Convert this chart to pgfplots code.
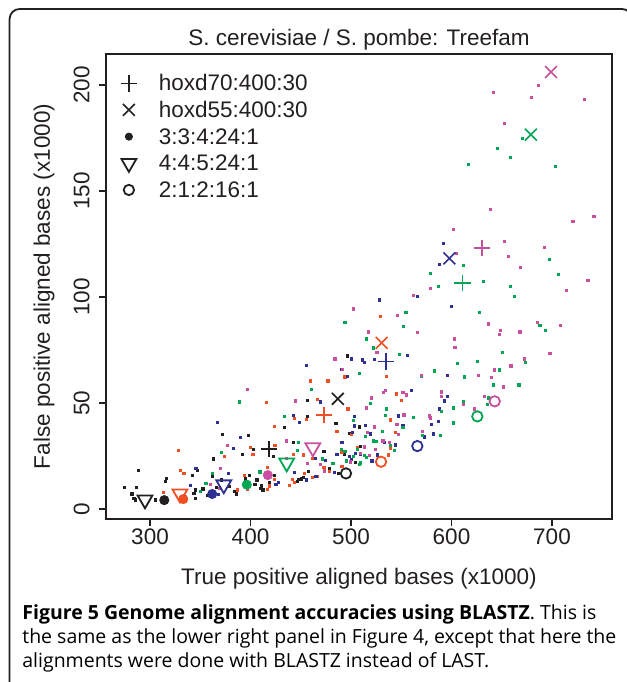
\documentclass[border=0pt]{standalone}
\usepackage{fontspec}
\setmainfont{Liberation Sans}
\newfontfamily\capfont{Open Sans}
\usepackage{pgfplots}
\pgfplotsset{compat=1.18}
\definecolor{cblack}{HTML}{231F20}
\definecolor{corange}{HTML}{F04E23}
\definecolor{cblue}{HTML}{2E3192}
\definecolor{cgreen}{HTML}{00A651}
\definecolor{cmag}{HTML}{C9509F}
\newlength\capw
\newcommand\chartfont{\fontsize{11.25}{13.5}\selectfont}

\pgfplotstableread{
x y
456.7 51.1
456.7 43.6
485 40.4
433.7 38.4
397.7 34.6
371.7 35.1
402.7 28.3
392 25.6
363 23.6
443 31.3
422.7 24.7
347.3 18.4
288.3 18.4
274.7 10.1
286.3 10.1
282 7.1
284 4.9
285.7 4.3
316.7 14.3
315.7 12.9
342 15.7
305.7 4.3
362 15.6
370.7 13.7
366 10.2
345.3 9
343.7 7.4
352.7 9.5
357.3 6.3
345 5
362.7 6.5
379.3 10.6
384.3 8.2
386 7.1
398.7 15.9
395.3 14.2
404.3 11.5
406.3 13.7
412.3 9
410 9.6
411 10.9
418.7 12.4
424 15.9
446.7 12.9
448 14
450.3 14.2
452.7 15
457.3 17.6
478.3 19
473 27.2
487.3 16.8
504.3 21.9
498.7 35.7
509 29.4
493.3 25.8
508 38.7
496.7 72.2
}\dotsblack

\pgfplotstableread{
x y
459.7 60.4
477 60.4
415.7 50.2
466.7 51.7
443.3 42.8
455.7 42.3
424 38.9
328 27.8
399.7 29.1
402.3 25.8
373.7 24.7
330.3 18.4
333.7 16.7
313.7 7.7
387.3 9
395.3 12.6
394 15.7
397 9.3
416.7 19.8
415 16.8
419 10.9
417 9.3
424 14
442 13.9
439 11.2
443.3 12.4
454 16.8
461.7 15
466.7 15.3
452.7 25.5
461.3 23.9
473 19.7
478.7 17.8
500 35.2
506 28.8
486 36.7
491 26.9
443 25.8
424.3 30
529 90.7
535 62.7
545 54.3
550 51.4
539 42
544 36
539 28.6
537.3 25.5
494 62.3
497 47.2
491 20
}\dotsorange

\pgfplotstableread{
x y
456 67.6
496.7 62.4
469.7 50.5
442.3 44.3
367 40.7
448.7 41
389.7 33.7
382.7 28.5
435.7 32.4
345.7 19.2
377.7 16.7
340 11.3
368.3 6.8
427.7 12.6
425.3 11.8
418 15
455.3 13.7
465 15.3
443.3 17.3
464.3 23.8
474.3 23
483.3 17.3
498.7 24.9
500 23.4
504.7 26.4
501.7 36
491 31.3
486 25.6
528 98.6
600 95.5
556 72.3
513.7 69
511 70.3
523 70.6
500 70.8
491 66
595.7 63.2
595.7 53.3
593 51
587.7 47.2
586.7 41.5
580 40.1
572.7 34
582 35.4
560 55.8
547.3 43.9
503 43.6
551.7 39.2
514 39.6
519 35.4
533 31.3
544 30.2
526.3 25.5
509 26
520.7 22.7
503 39.2
591.7 125.1
587.7 115.2
565.7 100.1
}\dotsblue

\pgfplotstableread{
x y
460.7 56.6
389 50.5
434 43.6
371 26.6
447.7 31.6
362 16.7
355.7 12.1
350 8.5
409.3 17.5
471.7 23.6
482 21.6
495.3 22.7
502.3 25
508.7 21.2
506.7 28.2
490.7 28.3
494 27.2
446.7 27.8
628 92.9
554.7 92.9
494 88.2
552 86
515 80.2
651 73.7
625.7 69.8
673.7 69
605.7 68.6
548 72.8
522.3 76
648 65.6
613 62.3
569.7 62.8
583 65.1
508 63.8
641.7 58.5
667 58.5
636.7 52.4
636 49.5
612 50.5
601.7 47.7
590 46.2
601.7 40.6
571 34.9
589 34.9
519 50
535 47.2
561.7 43.4
534 44
502.3 41.7
551.7 38.4
531 36.8
514 34.4
522 32.1
525 31.8
539 29.9
543 27.8
513.7 25.2
515 24.2
509.3 21.8
688 86.5
693.7 84.4
670.7 174.7
645.7 170
658.7 165.7
616.7 162.4
703.4 161.5
697.7 117.6
611.7 114.8
578.7 111
706.7 110.5
631.7 107.2
586.7 104.9
658.7 104.9
662.7 100.1
}\dotsgreen

\pgfplotstableread{
x y
484 70.8
491.3 66
397 56.6
445 51
376.7 29.9
436 23.9
369.7 19.2
359.7 11.5
369 9.8
456.3 21.7
469.3 21.1
473.7 18
509.3 26.4
436 32.1
502.3 94.4
546.3 91.5
565.7 83.2
517 83.5
636.7 87.3
649 84.4
647.7 82.2
668 83.5
685.7 88.2
708 86.5
698 73.3
602.7 80.2
603.3 76.4
672.7 70.8
659 67.5
643 65.6
627 63.2
640 62.1
569.7 63.2
652 57.6
633 53.3
590 55.2
590 53.3
612 49.5
622.7 47.2
577.7 43.9
579 43
571 36.8
534 56.1
532.3 54.9
551.7 54.9
555 53.8
520 52.4
515 47.7
552.7 44.4
545.7 40.1
547 35.1
523 38.7
516 36
531.7 32.1
538.3 31.5
513 29.3
524.3 28.3
518 25.2
499 22.2
686.4 199.7
641.7 196.4
679.4 194
732.4 193.1
652.7 181.7
638.7 141.2
741.7 137.9
720.7 135.5
601.7 131.7
652.7 126.1
604.7 120.4
692.7 123.3
656.7 119
668.7 113.8
735.7 107.7
578.7 103.9
714.7 103
561.7 100.6
525.7 74
}\dotsmag

\begin{document}%
\settowidth{\capw}{\capfont\fontsize{10pt}{12pt}\selectfont the same as the lower right panel in Figure 4, except that here the}%
\pgfmathsetmacro{\capsize}{10*297/\capw}%
\begin{tikzpicture}
\useasboundingbox (0,0) rectangle (313.5pt,341pt);
\draw[line width=0.9pt, color=cblack, rounded corners=5pt] (4.8pt,-10pt) -- (4.8pt,336.5pt) -- (316pt,336.5pt) -- (316pt,-10pt);
\begin{axis}[
 at={(53pt,81.5pt)}, anchor=south west,
 scale only axis, width=253pt, height=232.5pt,
 xmin=256.2, xmax=759.7, ymin=-4.7, ymax=214.6,
 xtick={300,400,500,600,700}, ytick={0,50,100,150,200},
 xtick pos=bottom, ytick pos=left,
 tick align=outside, major tick length=3.5pt,
 axis line style={line width=0.85pt, cblack},
 every tick/.style={line width=0.85pt, cblack},
 /pgf/number format/assume math mode=true,
 ticklabel style={font=\chartfont, text=cblack},
 xticklabel style={anchor=north, inner xsep=0pt, inner ysep=1pt},
 yticklabel style={rotate=90, anchor=south, inner xsep=0pt, inner ysep=4.5pt},
 every axis title shift=0pt,
 title={S. cerevisiae / S. pombe: Treefam},
 title style={font=\chartfont, text=cblack, at={(axis description cs:0.5,1.01935)}, anchor=base, inner sep=0pt},
 xlabel={True positive aligned bases (x1000)},
 xlabel style={font=\chartfont, text=cblack, at={(axis description cs:0.5,-0.1398)}, anchor=base, inner sep=0pt},
 ylabel={False positive aligned bases (x1000)},
 ylabel style={font=\chartfont, text=cblack, at={(axis description cs:-0.1107,0.5)}, anchor=base, inner sep=0pt},
 clip=false,
 legend cell align=left,
 legend style={at={(axis description cs:0.0158,0.9576)}, anchor=north west, draw=none, fill=none, inner sep=0pt, outer sep=0pt, font=\chartfont, text=cblack, row sep=2.33pt, nodes={inner sep=0pt, text height=8.5pt, text depth=2.5pt}, cells={anchor=base west}, /tikz/every odd column/.style={column sep=7.5pt}},
 legend image code/.code={\path (0pt,0pt) (14pt,0pt); \draw[#1] plot coordinates {(7pt,3.7pt)};},
]
\addplot[forget plot, only marks, mark=square*, mark size=0.55pt, cblack] table {\dotsblack};
\addplot[forget plot, only marks, mark=square*, mark size=0.55pt, corange] table {\dotsorange};
\addplot[forget plot, only marks, mark=square*, mark size=0.55pt, cblue] table {\dotsblue};
\addplot[forget plot, only marks, mark=square*, mark size=0.55pt, cgreen] table {\dotsgreen};
\addplot[forget plot, only marks, mark=square*, mark size=0.55pt, cmag] table {\dotsmag};
% hoxd70:400:30 (+)
\addplot[forget plot, only marks, mark=+, mark size=4.1pt, line width=0.8pt, cblack] coordinates {(418.2,28.3)};
\addplot[forget plot, only marks, mark=+, mark size=4.1pt, line width=0.8pt, corange] coordinates {(473.4,44.3)};
\addplot[forget plot, only marks, mark=+, mark size=4.1pt, line width=0.8pt, cblue] coordinates {(534.8,69.5)};
\addplot[forget plot, only marks, mark=+, mark size=4.1pt, line width=0.8pt, cgreen] coordinates {(610.8,106.7)};
\addplot[forget plot, only marks, mark=+, mark size=4.1pt, line width=0.8pt, cmag] coordinates {(630.3,123)};
% hoxd55:400:30 (x)
\addplot[forget plot, only marks, mark=x, mark size=4.2pt, line width=0.8pt, cblack] coordinates {(486.9,52.0)};
\addplot[forget plot, only marks, mark=x, mark size=4.2pt, line width=0.8pt, corange] coordinates {(530.5,78.4)};
\addplot[forget plot, only marks, mark=x, mark size=4.2pt, line width=0.8pt, cblue] coordinates {(597.8,118.2)};
\addplot[forget plot, only marks, mark=x, mark size=4.2pt, line width=0.8pt, cgreen] coordinates {(679,176.6)};
\addplot[forget plot, only marks, mark=x, mark size=4.2pt, line width=0.8pt, cmag] coordinates {(699,206.1)};
% 3:3:4:24:1 (filled dot)
\addplot[forget plot, only marks, mark=*, mark size=2.3pt, cblack] coordinates {(314.2,4.2)};
\addplot[forget plot, only marks, mark=*, mark size=2.3pt, corange] coordinates {(333.1,4.7)};
\addplot[forget plot, only marks, mark=*, mark size=2.3pt, cblue] coordinates {(361.9,7.1)};
\addplot[forget plot, only marks, mark=*, mark size=2.3pt, cgreen] coordinates {(396.3,11.5)};
\addplot[forget plot, only marks, mark=*, mark size=2.3pt, cmag] coordinates {(417.2,16.0)};
% 4:4:5:24:1 (down triangle)
\addplot[forget plot, only marks, mark=triangle, mark size=4.3pt, mark options={rotate=180}, line width=0.9pt, cblack] coordinates {(295,4.4)};
\addplot[forget plot, only marks, mark=triangle, mark size=4.3pt, mark options={rotate=180}, line width=0.9pt, corange] coordinates {(329.8,7.2)};
\addplot[forget plot, only marks, mark=triangle, mark size=4.3pt, mark options={rotate=180}, line width=0.9pt, cblue] coordinates {(373.4,11.5)};
\addplot[forget plot, only marks, mark=triangle, mark size=4.3pt, mark options={rotate=180}, line width=0.9pt, cgreen] coordinates {(436,21.8)};
\addplot[forget plot, only marks, mark=triangle, mark size=4.3pt, mark options={rotate=180}, line width=0.9pt, cmag] coordinates {(462,29.0)};
% 2:1:2:16:1 (open circle)
\addplot[forget plot, only marks, mark=o, mark size=2.6pt, line width=0.9pt, cblack] coordinates {(495,16.8)};
\addplot[forget plot, only marks, mark=o, mark size=2.6pt, line width=0.9pt, corange] coordinates {(529.9,22.3)};
\addplot[forget plot, only marks, mark=o, mark size=2.6pt, line width=0.9pt, cblue] coordinates {(566,29.7)};
\addplot[forget plot, only marks, mark=o, mark size=2.6pt, line width=0.9pt, cgreen] coordinates {(625.7,43.7)};
\addplot[forget plot, only marks, mark=o, mark size=2.6pt, line width=0.9pt, cmag] coordinates {(643,50.8)};
% legend
\addlegendimage{only marks, mark=+, mark size=4.1pt, line width=0.8pt, cblack}
\addlegendentry{hoxd70:400:30}
\addlegendimage{only marks, mark=x, mark size=4.2pt, line width=0.8pt, cblack}
\addlegendentry{hoxd55:400:30}
\addlegendimage{only marks, mark=*, mark size=1.8pt, cblack}
\addlegendentry{3:3:4:24:1}
\addlegendimage{only marks, mark=triangle, mark size=4.3pt, mark options={rotate=180}, line width=0.9pt, cblack}
\addlegendentry{4:4:5:24:1}
\addlegendimage{only marks, mark=o, mark size=2.6pt, line width=0.9pt, cblack}
\addlegendentry{2:1:2:16:1}
\end{axis}
\node[anchor=base west, inner sep=0pt] at (11pt,31.4pt) {\capfont\fontsize{\capsize pt}{12pt}\selectfont\textbf{Figure 5 Genome alignment accuracies using BLASTZ}. This is};
\node[anchor=base west, inner sep=0pt] at (11pt,19.4pt) {\capfont\fontsize{\capsize pt}{12pt}\selectfont the same as the lower right panel in Figure 4, except that here the};
\node[anchor=base west, inner sep=0pt] at (11pt,7.4pt) {\capfont\fontsize{\capsize pt}{12pt}\selectfont alignments were done with BLASTZ instead of LAST.};
\end{tikzpicture}%
\end{document}
